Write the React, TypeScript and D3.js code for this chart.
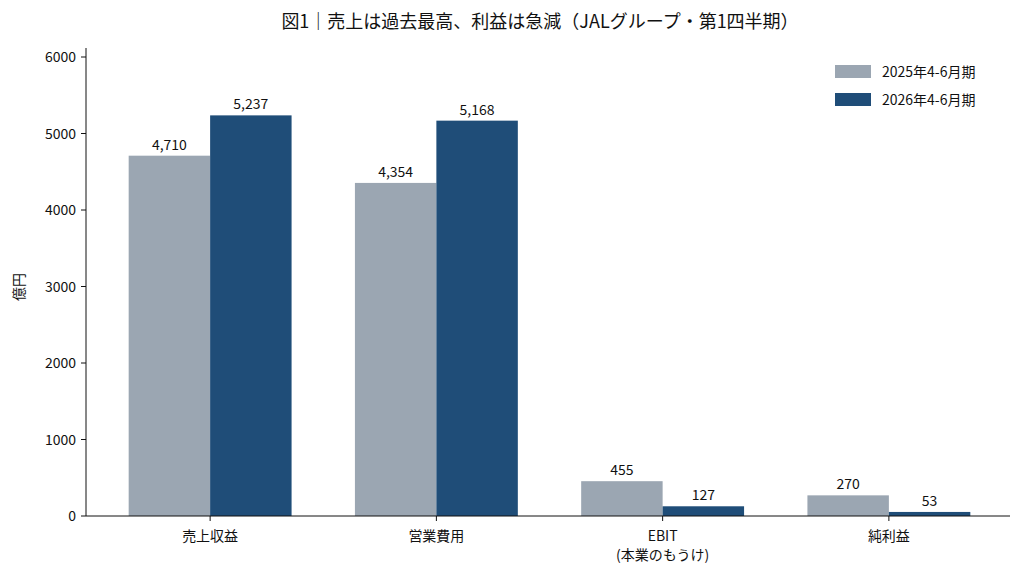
import * as d3 from "d3";

const categories = ["売上収益", "営業費用", "EBIT\n(本業のもうけ)", "純利益"];
const series2025 = [4710, 4354, 455, 270];
const series2026 = [5237, 5168, 127, 53];
const seriesNames = ["2025年4-6月期", "2026年4-6月期"];
const colors = ["#9ba6b2", "#1f4d78"];
const yTicks = [0, 1000, 2000, 3000, 4000, 5000, 6000];

const W = 1024;
const H = 579;
const font = "'Noto Sans CJK JP', 'Noto Sans', sans-serif";

export default function App() {
  const x = d3.scaleBand<string>().domain(categories).range([97, 1002]).padding(0);
  const y = d3.scaleLinear().domain([0, 6000]).range([516, 57]);
  const bw = x.bandwidth() * 0.36;
  const fmt = d3.format(",");
  const all = [series2025, series2026];

  return (
    <svg width={W} height={H} style={{ position: "absolute", left: 0, top: 0, fontFamily: font }}>
      <rect width={W} height={H} fill="#fff" />
      <text x={540} y={28} textAnchor="middle" fontSize={18} fill="#111">
        図1｜売上は過去最高、利益は急減（JALグループ・第1四半期）
      </text>
      {all.map((vals, si) =>
        vals.map((v, i) => {
          const cx = x(categories[i])! + x.bandwidth() / 2;
          const bx = si === 0 ? cx - bw : cx;
          return (
            <g key={`${si}-${i}`}>
              <rect x={bx} y={y(v)} width={bw} height={y(0) - y(v)} fill={colors[si]} />
              <text x={bx + bw / 2} y={y(v) - 6} textAnchor="middle" fontSize={14} fill="#111">
                {fmt(v)}
              </text>
            </g>
          );
        })
      )}
      <line x1={86} x2={86} y1={48} y2={516} stroke="#111" />
      <line x1={86} x2={1010} y1={516} y2={516} stroke="#111" />
      {yTicks.map((t) => (
        <g key={t}>
          <line x1={81} x2={86} y1={y(t)} y2={y(t)} stroke="#111" />
          <text x={76} y={y(t) + 5} textAnchor="end" fontSize={14} fill="#111">{t}</text>
        </g>
      ))}
      {categories.map((c) => {
        const cx = x(c)! + x.bandwidth() / 2;
        return (
          <g key={c}>
            <line x1={cx} x2={cx} y1={516} y2={521} stroke="#111" />
            {c.split("\n").map((ln, k) => (
              <text key={k} x={cx} y={541 + k * 19} textAnchor="middle" fontSize={14} fill="#111">{ln}</text>
            ))}
          </g>
        );
      })}
      <text transform="translate(24,287) rotate(-90)" textAnchor="middle" fontSize={14} fill="#111">億円</text>
      {seriesNames.map((n, i) => (
        <g key={n}>
          <rect x={835} y={65 + i * 28} width={36} height={13} fill={colors[i]} />
          <text x={882} y={77 + i * 28} fontSize={14} fill="#111">{n}</text>
        </g>
      ))}
    </svg>
  );
}
